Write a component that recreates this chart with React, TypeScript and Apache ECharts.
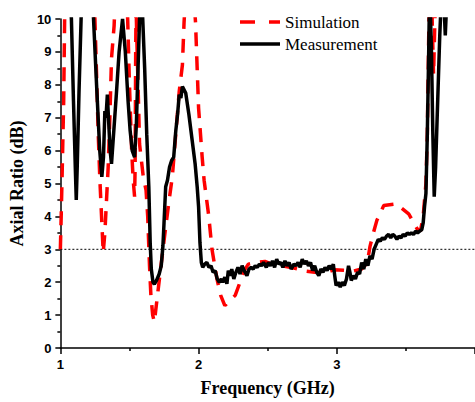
import React, { useEffect, useRef } from "react";
import * as echarts from "echarts";

const simFreq = [
  1.0, 1.006, 1.012, 1.024, 1.031, 1.04, 1.2, 1.25, 1.262, 1.274, 1.286, 1.298, 1.31, 1.322, 1.334, 1.346, 1.358, 1.37, 1.389, 1.4,
  1.47, 1.487, 1.5, 1.516, 1.527, 1.537, 1.541, 1.545, 1.548, 1.552, 1.562, 1.573, 1.6, 1.62, 1.632, 1.645, 1.655, 1.668, 1.68,
  1.7, 1.728, 1.76, 1.787, 1.81, 1.835, 1.86, 1.883, 1.895, 1.91, 1.96, 1.978, 2.0, 2.026, 2.04, 2.074, 2.097, 2.133, 2.16, 2.19,
  2.23, 2.265, 2.3, 2.33, 2.36, 2.42, 2.48, 2.53, 2.6, 2.69, 2.77, 2.84, 2.91, 2.98, 3.05, 3.12, 3.18, 3.22, 3.24, 3.265, 3.29,
  3.34, 3.43, 3.52, 3.55, 3.58, 3.605, 3.625, 3.645, 3.655, 3.66, 3.667, 3.675, 3.69, 3.7, 3.71, 3.73, 3.9,
];
const simAR = [
  3.0, 4.0, 5.1, 7.5, 10, 12, 13, 10, 8.3, 6.5, 5.1, 4.0, 2.9, 3.5, 4.5, 5.5, 7.0, 8.8, 9.8, 11,
  12, 10, 8.0, 6.0, 5.1, 4.6, 5.5, 9.0, 10.4, 9.6, 8.0, 6.2, 5.2, 4.8, 4.0, 2.5, 1.6, 1.0, 0.79,
  1.5, 2.5, 3.6, 4.5, 5.2, 6.5, 7.8, 8.6, 9.9, 11, 11, 9.9, 7.3, 5.8, 5.1, 4.0, 3.0, 2.1, 1.6, 1.29,
  1.45, 1.6, 2.0, 2.35, 2.55, 2.6, 2.63, 2.55, 2.5, 2.43, 2.34, 2.3, 2.28, 2.38, 2.36, 2.34, 2.4, 2.58, 3.08, 3.5, 3.88,
  4.33, 4.38, 4.08, 3.85, 3.63, 3.55, 4.0, 5.0, 6.5, 8.0, 10, 10.8, 10, 8.3, 10, 12, 14,
];

const measFreq = [
  1.0, 1.06, 1.08, 1.095, 1.108, 1.115, 1.122, 1.135, 1.15, 1.17, 1.22, 1.24, 1.262, 1.285, 1.3, 1.312, 1.322, 1.33, 1.34, 1.348,
  1.36, 1.37, 1.385, 1.405, 1.425, 1.45, 1.47, 1.49, 1.505, 1.52, 1.537, 1.55, 1.562, 1.573, 1.585, 1.596, 1.61, 1.625, 1.64, 1.65,
  1.658, 1.67, 1.68, 1.695, 1.715, 1.73, 1.742, 1.75, 1.762, 1.775, 1.79, 1.805, 1.82, 1.835, 1.848, 1.86, 1.872, 1.883, 1.895, 1.907,
  1.93, 1.954, 1.975, 1.99, 2.0, 2.01, 2.02, 2.03, 2.045, 2.06, 2.075, 2.09, 2.105, 2.12, 2.135, 2.15, 2.165, 2.175, 2.19, 2.205,
  2.215, 2.23, 2.24, 2.255, 2.27, 2.285, 2.3, 2.315, 2.33, 2.35, 2.365, 2.38, 2.395, 2.41, 2.425, 2.44, 2.455, 2.47, 2.49, 2.505,
  2.52, 2.535, 2.55, 2.565, 2.58, 2.595, 2.61, 2.625, 2.64, 2.655, 2.67, 2.69, 2.705, 2.72, 2.735, 2.75, 2.765, 2.78, 2.795, 2.81,
  2.825, 2.84, 2.855, 2.87, 2.885, 2.9, 2.915, 2.93, 2.945, 2.96, 2.975, 2.985, 2.995, 3.01, 3.025, 3.04, 3.055, 3.07, 3.085, 3.095,
  3.105, 3.12, 3.135, 3.15, 3.165, 3.18, 3.195, 3.21, 3.225, 3.24, 3.255, 3.27, 3.285, 3.3, 3.315, 3.33, 3.345, 3.36, 3.375, 3.39,
  3.405, 3.42, 3.435, 3.45, 3.465, 3.48, 3.495, 3.51, 3.525, 3.54, 3.555, 3.57, 3.585, 3.6, 3.615, 3.625, 3.635, 3.645, 3.655, 3.665,
  3.672, 3.685, 3.695, 3.705, 3.715, 3.73, 3.745, 3.76, 3.775, 3.785, 3.795, 3.81, 3.9,
];
const measAR = [
  14, 11.5, 10, 7.5, 5.5, 4.5, 5.5, 7.8, 10, 12, 12, 10, 8, 6, 5.2, 5.8, 7.2, 7.0, 7.7, 7.0,
  6.0, 5.6, 6.5, 7.7, 9.0, 10, 9, 7.5, 6.6, 6.0, 5.8, 6.8, 8.5, 10, 11, 10, 8.5, 6.5, 4.9, 3.2,
  2.4, 2.0, 1.94, 2.05, 2.25, 2.5, 3.1, 3.8, 4.9, 5.1, 5.5, 5.7, 5.8, 6.6, 7.1, 7.7, 7.6, 7.95, 7.85, 7.75,
  7.1, 6.3, 5.6, 4.9, 4.3, 3.2, 2.6, 2.45, 2.55, 2.6, 2.45, 2.5, 2.3, 2.35, 2.1, 2.0, 2.1, 2.0, 2.15, 1.95,
  2.35, 2.2, 2.4, 2.1, 2.3, 2.45, 2.25, 2.5, 2.35, 2.2, 2.4, 2.45, 2.4, 2.5, 2.45, 2.55, 2.5, 2.6, 2.45, 2.6,
  2.5, 2.65, 2.45, 2.7, 2.55, 2.6, 2.45, 2.65, 2.5, 2.6, 2.4, 2.55, 2.5, 2.6, 2.45, 2.7, 2.55, 2.65, 2.5, 2.6,
  2.35, 2.5, 2.3, 2.2, 2.4, 2.3, 2.45, 2.35, 2.5, 2.4, 2.55, 2.2, 1.9, 2.0, 1.85, 2.0, 1.9, 2.1, 2.5, 2.3,
  2.05, 2.2, 2.1, 2.3, 2.25, 2.6, 2.4, 2.7, 2.5, 2.8, 2.7, 3.0, 3.15, 3.3, 3.25, 3.35, 3.3, 3.4, 3.45, 3.35,
  3.45, 3.4, 3.3, 3.4, 3.35, 3.45, 3.4, 3.5, 3.45, 3.5, 3.45, 3.55, 3.5, 3.55, 3.6, 3.8, 4.3, 4.7, 6.5, 9,
  11, 9, 6.5, 4.6, 5.5, 7.5, 9.5, 11, 10.5, 9.5, 10.5, 12, 14,
];

const refFreq = [1, 4];
const refAR = [3, 3];

const legendNames = ["Simulation", "Measurement"];

const zip = (xs: number[], ys: number[]) => xs.map((x, i) => [x, ys[i]]);

export default function App() {
  const ref = useRef<HTMLDivElement>(null);
  useEffect(() => {
    if (!ref.current) return;
    const chart = echarts.init(ref.current, null, { renderer: "svg" });
    const tickFont = { fontFamily: "Liberation Sans", fontWeight: "bold" as const, fontSize: 13, color: "#000" };
    const nameFont = { fontFamily: "Liberation Serif", fontWeight: "bold" as const, fontSize: 18, color: "#000" };
    const legendText = { fontFamily: "Liberation Serif", fontSize: 17, fill: "#000" };
    chart.setOption({
      animation: false,
      backgroundColor: "#fff",
      grid: { left: 60, top: 19, width: 419, height: 334 },
      graphic: [
        {
          type: "line",
          shape: { x1: 240, y1: 22, x2: 280, y2: 22 },
          style: { stroke: "#ff0000", lineWidth: 3.5, lineDash: [15, 14] },
          z: 10,
        },
        {
          type: "text",
          x: 285,
          y: 22,
          style: { ...legendText, text: legendNames[0], verticalAlign: "middle", align: "left" },
          z: 10,
        },
        {
          type: "line",
          shape: { x1: 240, y1: 44, x2: 280, y2: 44 },
          style: { stroke: "#000", lineWidth: 3.5 },
          z: 10,
        },
        {
          type: "text",
          x: 285,
          y: 44,
          style: { ...legendText, text: legendNames[1], verticalAlign: "middle", align: "left" },
          z: 10,
        },
      ],
      xAxis: {
        type: "value",
        min: 1,
        max: 4,
        interval: 1,
        name: "Frequency (GHz)",
        nameLocation: "middle",
        nameGap: 31,
        nameTextStyle: nameFont,
        axisLine: { show: true, onZero: false, lineStyle: { color: "#000", width: 1.5 } },
        axisTick: { show: true, inside: false, length: 6, lineStyle: { color: "#000", width: 1.5 } },
        minorTick: { show: true, splitNumber: 2, length: 3, lineStyle: { color: "#000", width: 1.5 } },
        axisLabel: { ...tickFont, margin: 10, showMaxLabel: false },
        splitLine: { show: false },
      },
      yAxis: {
        type: "value",
        min: 0,
        max: 10,
        interval: 1,
        name: "Axial Ratio (dB)",
        nameLocation: "middle",
        nameGap: 27,
        nameTextStyle: nameFont,
        axisLine: { show: true, lineStyle: { color: "#000", width: 1.5 } },
        axisTick: { show: true, inside: false, length: 5, lineStyle: { color: "#000", width: 1.5 } },
        minorTick: { show: true, splitNumber: 2, length: 3, lineStyle: { color: "#000", width: 1.5 } },
        axisLabel: { ...tickFont, margin: 9 },
        splitLine: { show: false },
      },
      series: [
        {
          name: "3 dB",
          type: "line",
          data: zip(refFreq, refAR),
          symbol: "none",
          silent: true,
          lineStyle: { color: "#000", width: 1, type: [2, 2] },
          z: 1,
        },
        {
          name: legendNames[0],
          type: "line",
          data: zip(simFreq, simAR),
          symbol: "none",
          clip: true,
          color: "#ff0000",
          lineStyle: { color: "#ff0000", width: 3.5, type: [14, 10] },
          z: 2,
        },
        {
          name: legendNames[1],
          type: "line",
          data: zip(measFreq, measAR),
          symbol: "none",
          clip: true,
          color: "#000",
          lineStyle: { color: "#000", width: 3.5 },
          z: 3,
        },
      ],
    });
    return () => chart.dispose();
  }, []);
  return (
    <div
      ref={ref}
      style={{ position: "absolute", left: 0, top: 0, width: 475, height: 402, background: "#fff" }}
    />
  );
}
